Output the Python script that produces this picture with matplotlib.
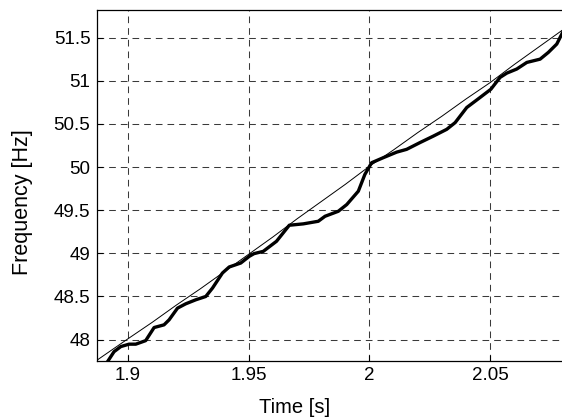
import matplotlib
matplotlib.use('Agg')
import matplotlib.pyplot as plt

# measured frequency (thick line)
t_meas = [1.8915, 1.8942, 1.8970, 1.9004, 1.9032, 1.9073, 1.9108, 1.9149, 1.9170, 1.9205,
          1.9239, 1.9281, 1.9322, 1.9350, 1.9391, 1.9419, 1.9467, 1.9502, 1.9522, 1.9560,
          1.9615, 1.9668, 1.9726, 1.9788, 1.9816, 1.9871, 1.9906, 1.9954, 1.9981, 2.0009,
          2.0057, 2.0113, 2.0154, 2.0209, 2.0265, 2.0320, 2.0355, 2.0403, 2.0458, 2.0503,
          2.0541, 2.0569, 2.0610, 2.0652, 2.0707, 2.0741, 2.0776, 2.0800]
f_meas = [47.744, 47.860, 47.919, 47.947, 47.947, 47.988, 48.140, 48.171, 48.229, 48.365,
          48.415, 48.462, 48.500, 48.598, 48.772, 48.842, 48.888, 48.965, 48.997, 49.023,
          49.140, 49.326, 49.342, 49.372, 49.430, 49.488, 49.566, 49.721, 49.915, 50.051,
          50.109, 50.174, 50.206, 50.284, 50.360, 50.438, 50.516, 50.691, 50.807, 50.903,
          51.040, 51.090, 51.137, 51.214, 51.252, 51.330, 51.427, 51.560]

# reference frequency ramp (thin line)
t_ref = [1.885, 1.90, 1.91, 1.92, 1.93, 1.94, 1.95, 1.96, 1.97, 1.98,
         1.99, 2.00, 2.01, 2.02, 2.03, 2.04, 2.05, 2.06, 2.07, 2.08]
f_ref = [47.72, 48.01, 48.20, 48.40, 48.59, 48.79, 48.99, 49.19, 49.40, 49.60,
         49.80, 50.01, 50.20, 50.40, 50.59, 50.79, 50.98, 51.19, 51.39, 51.59]

x_ticks = [1.9, 1.95, 2.0, 2.05]
x_labels = ['1.9', '1.95', '2', '2.05']
y_ticks = [48, 48.5, 49, 49.5, 50, 50.5, 51, 51.5]
y_labels = ['48', '48.5', '49', '49.5', '50', '50.5', '51', '51.5']

plt.rcParams['font.family'] = ['Liberation Sans', 'DejaVu Sans']
plt.rcParams['lines.scale_dashes'] = False

fig = plt.figure(figsize=(5.62, 4.18), dpi=100)
ax = fig.add_axes([0.172, 0.1364, 0.829, 0.8397])

ax.plot(t_ref, f_ref, color='black', linewidth=0.7)
ax.plot(t_meas, f_meas, color='black', linewidth=2.4)

ax.set_xlim(1.887, 2.08)
ax.set_ylim(47.752, 51.822)
ax.set_xticks(x_ticks)
ax.set_xticklabels(x_labels)
ax.set_yticks(y_ticks)
ax.set_yticklabels(y_labels)
ax.tick_params(direction='in', length=4, width=0.8, labelsize=13.5, pad=4.5)
ax.grid(True, color='#3a3a3a', linestyle=(0, (4.8, 3.6)), linewidth=0.75)

ax.spines['right'].set_visible(False)
for s in ['left', 'top', 'bottom']:
    ax.spines[s].set_linewidth(0.9)

ax.set_xlabel('Time [s]', fontsize=14.5)
ax.set_ylabel('Frequency [Hz]', fontsize=15.5)
ax.xaxis.set_label_coords(0.4255, -0.1595)
ax.yaxis.set_label_coords(-0.160, 0.453)
ax.xaxis.label.set_va('bottom')
ax.yaxis.label.set_va('center')

fig.savefig('out.png', dpi=100)
